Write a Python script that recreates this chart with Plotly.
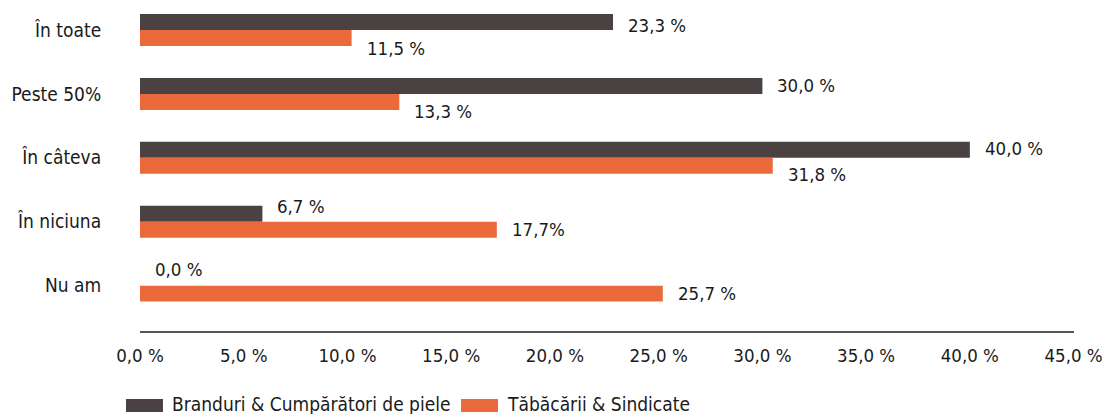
import plotly.graph_objects as go

# ---- data ----
categories = ["În toate", "Peste 50%", "În câteva", "În niciuna", "Nu am"]
series_names = ["Branduri & Cumpărători de piele", "Tăbăcării & Sindicate"]
# bar lengths as drawn in the reference (percent)
brands_values = [22.8, 30.0, 40.0, 5.9, 0.0]
tanneries_values = [10.2, 12.5, 30.5, 17.2, 25.2]
# printed value labels
brands_labels = ["23,3 %", "30,0 %", "40,0 %", "6,7 %", "0,0 %"]
tanneries_labels = ["11,5 %", "13,3 %", "31,8 %", "17,7%", "25,7 %"]
tick_values = [0, 5, 10, 15, 20, 25, 30, 35, 40, 45]
tick_labels = ["0,0 %", "5,0 %", "10,0 %", "15,0 %", "20,0 %", "25,0 %",
               "30,0 %", "35,0 %", "40,0 %", "45,0 %"]

# ---- style ----
DARK = "#4a4143"
ORANGE = "#eb6a3b"
TEXT = "#1a1a1a"
FONT = "DejaVu Sans Condensed, Liberation Sans Narrow, Arial Narrow, sans-serif"
brands_yshift = [5, 8, 9, 15, 16]
tanneries_yshift = [-18, -18, -17, -8, -8]

fig = go.Figure()
fig.add_trace(go.Bar(y=categories, x=brands_values, orientation="h",
                     marker=dict(color=DARK, line=dict(width=0)),
                     name=series_names[0], showlegend=False))
fig.add_trace(go.Bar(y=categories, x=tanneries_values, orientation="h",
                     marker=dict(color=ORANGE, line=dict(width=0)),
                     name=series_names[1], showlegend=False))

annotations = []
for cat, v, lab, ys in zip(categories, brands_values, brands_labels, brands_yshift):
    annotations.append(dict(x=v, y=cat, xref="x", yref="y", text=lab,
                            showarrow=False, xanchor="left", yanchor="middle",
                            xshift=13, yshift=ys,
                            font=dict(family=FONT, size=18.5, color=TEXT)))
for cat, v, lab, ys in zip(categories, tanneries_values, tanneries_labels, tanneries_yshift):
    annotations.append(dict(x=v, y=cat, xref="x", yref="y", text=lab,
                            showarrow=False, xanchor="left", yanchor="middle",
                            xshift=13, yshift=ys,
                            font=dict(family=FONT, size=18.5, color=TEXT)))

# manual legend (wide swatches)
shapes = []
leg_items = [(series_names[0], DARK, -0.015, 0.0246, 0.0321),
             (series_names[1], ORANGE, 0.3437, 0.3833, 0.3908)]
for name, col, x0, x1, tx in leg_items:
    shapes.append(dict(type="rect", xref="paper", yref="paper",
                       x0=x0, x1=x1, y0=-0.2447, y1=-0.2054,
                       fillcolor=col, line=dict(width=0)))
    annotations.append(dict(x=tx, y=-0.222, xref="paper", yref="paper",
                            text=name, showarrow=False, xanchor="left",
                            yanchor="middle",
                            font=dict(family=FONT, size=19, color=TEXT)))

fig.update_layout(
    width=1105, height=414,
    margin=dict(l=140, r=31, t=0, b=83, autoexpand=False),
    paper_bgcolor="white", plot_bgcolor="white",
    barmode="group", bargap=0.5, bargroupgap=0,
    font=dict(family=FONT, color=TEXT),
    annotations=annotations, shapes=shapes,
    showlegend=False,
)
fig.update_xaxes(range=[0, 45.02], tickvals=tick_values, ticktext=tick_labels,
                 automargin=False,
                 showgrid=False, zeroline=False,
                 showline=True, linecolor="#555555", linewidth=2,
                 ticks="outside", ticklen=7, tickcolor="rgba(0,0,0,0)",
                 tickfont=dict(family=FONT, size=18.5, color=TEXT))
fig.update_yaxes(type="category", categoryorder="array", categoryarray=categories,
                 automargin=False,
                 range=[4.71, -0.47], showgrid=False, zeroline=False,
                 showline=False, ticks="outside", ticklen=34,
                 tickcolor="rgba(0,0,0,0)",
                 tickfont=dict(family=FONT, size=19, color=TEXT))

fig.write_html(
    "out.html",
    config={"displayModeBar": False},
    post_script="document.body.style.margin='0';document.body.style.padding='0';",
)
